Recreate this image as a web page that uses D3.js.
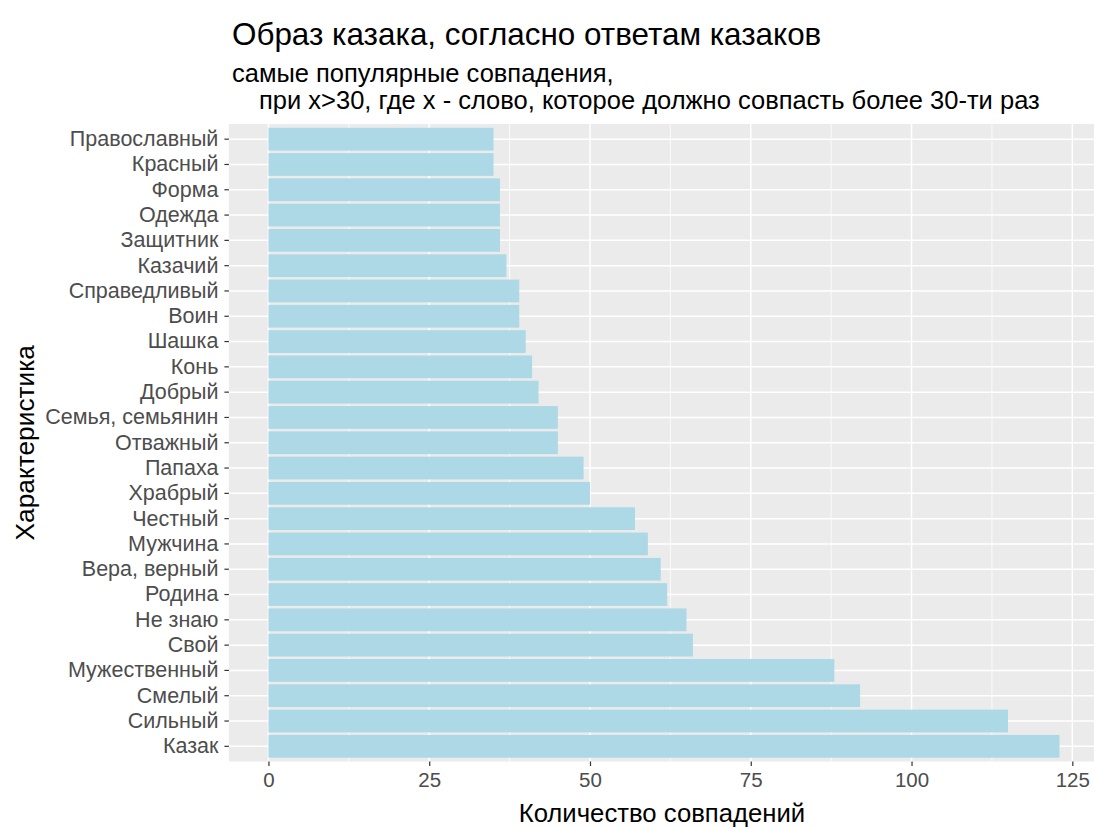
<!DOCTYPE html>
<html>
<head>
<meta charset="utf-8">
<script src="https://cdn.jsdelivr.net/npm/d3@7"></script>
<style>
  html, body { margin: 0; padding: 0; background: #ffffff; }
  svg { display: block; font-family: "Liberation Sans", Arial, sans-serif; }
</style>
</head>
<body>
<svg id="chart" width="1094" height="829"></svg>
<script>
// ---- data (top to bottom, as displayed) ----
const categories = [
  "Православный", "Красный", "Форма", "Одежда", "Защитник", "Казачий",
  "Справедливый", "Воин", "Шашка", "Конь", "Добрый", "Семья, семьянин",
  "Отважный", "Папаха", "Храбрый", "Честный", "Мужчина", "Вера, верный",
  "Родина", "Не знаю", "Свой", "Мужественный", "Смелый", "Сильный", "Казак"
];
const counts = [
  35, 35, 36, 36, 36, 37,
  39, 39, 40, 41, 42, 45,
  45, 49, 50, 57, 59, 61,
  62, 65, 66, 88, 92, 115, 123
];
const xTicks = [0, 25, 50, 75, 100, 125];
const xMinorTicks = [12.5, 37.5, 62.5, 87.5, 112.5];
const titleText = "Образ казака, согласно ответам казаков";
const subtitleLines = ["самые популярные совпадения,", "при x>30, где x - слово, которое должно совпасть более 30-ти раз"];
const xTitle = "Количество совпадений";
const yTitle = "Характеристика";

// ---- layout ----
const panel = { left: 228.9, right: 1099, top: 124, bottom: 761.5 };
const svg = d3.select("#chart");

const maxV = d3.max(counts);
const pad = maxV * 0.05;
const x = d3.scaleLinear().domain([-pad, maxV + pad]).range([panel.left, panel.right]);
const y = d3.scaleBand().domain(categories).range([panel.top, panel.bottom])
  .paddingInner(0.1).paddingOuter(0.15);

// panel background
svg.append("rect")
  .attr("x", panel.left).attr("y", panel.top)
  .attr("width", panel.right - panel.left).attr("height", panel.bottom - panel.top)
  .attr("fill", "#EBEBEB");

// minor grid
svg.append("g").selectAll("line").data(xMinorTicks).join("line")
  .attr("x1", d => x(d)).attr("x2", d => x(d))
  .attr("y1", panel.top).attr("y2", panel.bottom)
  .attr("stroke", "#ffffff").attr("stroke-width", 0.8);

// major grid
svg.append("g").selectAll("line").data(xTicks).join("line")
  .attr("x1", d => x(d)).attr("x2", d => x(d))
  .attr("y1", panel.top).attr("y2", panel.bottom)
  .attr("stroke", "#ffffff").attr("stroke-width", 1.5);
svg.append("g").selectAll("line").data(categories).join("line")
  .attr("x1", panel.left).attr("x2", panel.right)
  .attr("y1", d => y(d) + y.bandwidth() / 2).attr("y2", d => y(d) + y.bandwidth() / 2)
  .attr("stroke", "#ffffff").attr("stroke-width", 1.5);

// bars
svg.append("g").selectAll("rect").data(categories).join("rect")
  .attr("x", x(0))
  .attr("y", d => y(d))
  .attr("width", (d, i) => x(counts[i]) - x(0))
  .attr("height", y.bandwidth())
  .attr("fill", "#ADD8E6");

// x axis
const xAxis = svg.append("g")
  .attr("transform", `translate(0,${panel.bottom})`)
  .call(d3.axisBottom(x).tickValues(xTicks).tickSize(4.5).tickPadding(6).tickFormat(d3.format("d")));
xAxis.select(".domain").remove();
xAxis.selectAll(".tick line").attr("stroke", "#333333").attr("stroke-width", 1.2);
xAxis.selectAll(".tick text").attr("fill", "#4D4D4D").attr("font-size", "20.5px")
  .attr("font-family", "'Liberation Sans', Arial, sans-serif");

// y axis
const yAxis = svg.append("g")
  .attr("transform", `translate(${panel.left},0)`)
  .call(d3.axisLeft(y).tickSize(4.5).tickPadding(6));
yAxis.select(".domain").remove();
yAxis.selectAll(".tick line").attr("stroke", "#333333").attr("stroke-width", 1.2);
yAxis.selectAll(".tick text").attr("fill", "#4D4D4D").attr("font-size", "21.5px")
  .attr("font-family", "'Liberation Sans', Arial, sans-serif");

// titles
svg.append("text").attr("x", 232).attr("y", 45)
  .attr("font-size", "31.4px").attr("fill", "#000").text(titleText);
svg.append("text").attr("x", 232).attr("y", 82)
  .attr("font-size", "25.5px").attr("fill", "#000").text(subtitleLines[0]);
svg.append("text").attr("x", 259).attr("y", 109)
  .attr("font-size", "25.5px").attr("fill", "#000").text(subtitleLines[1]);

svg.append("text")
  .attr("x", (panel.left + panel.right) / 2 - 2).attr("y", 822)
  .attr("text-anchor", "middle").attr("font-size", "25.7px").attr("fill", "#000")
  .text(xTitle);
svg.append("text")
  .attr("transform", `translate(34,${(panel.top + panel.bottom) / 2}) rotate(-90)`)
  .attr("text-anchor", "middle").attr("font-size", "26.3px").attr("fill", "#000")
  .text(yTitle);
</script>
</body>
</html>
